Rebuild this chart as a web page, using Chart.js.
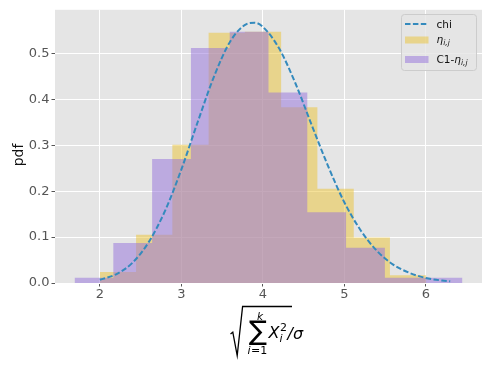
<!DOCTYPE html>
<html>
<head>
<meta charset="utf-8">
<script src="https://cdn.jsdelivr.net/npm/chart.js@4.4.0/dist/chart.umd.min.js"></script>
<style>
html,body{margin:0;padding:0;background:#fff;}
</style>
</head>
<body>
<canvas id="chart" width="491" height="368"></canvas>
<script>
// chi pdf (dashed line)
var chiX = [2.0,2.2,2.4,2.6,2.8,3.0,3.2,3.4,3.6,3.8,3.9,4.0,4.2,4.4,4.6,4.8,5.0,5.2,5.4,5.6,5.8,6.0,6.2,6.3];
var chiY = [0.007,0.019,0.044,0.089,0.157,0.247,0.350,0.449,0.526,0.564,0.567,0.558,0.511,0.435,0.344,0.255,0.176,0.115,0.070,0.040,0.022,0.011,0.0054,0.0037];

// eta_{i,j} histogram: bin edges and density per bin
var etaEdges = [2.0,2.445,2.89,3.335,3.78,4.225,4.67,5.116,5.56,6.007];
var etaHeights = [0.024,0.105,0.301,0.545,0.547,0.383,0.205,0.099,0.0167];

// C1-eta_{i,j} histogram
var c1Edges = [1.69,2.166,2.642,3.118,3.594,4.07,4.546,5.022,5.498,5.974,6.45];
var c1Heights = [0.0117,0.087,0.270,0.512,0.547,0.415,0.154,0.077,0.0117,0.0117];

var xTicks = [2,3,4,5,6];
var yTicks = [0.0,0.1,0.2,0.3,0.4,0.5];

var FONT = "'DejaVu Sans', sans-serif";
var YELLOW = 'rgba(236,196,52,0.5)';
var PURPLE = 'rgba(147,112,219,0.5)';

function stepPoints(edges, heights){
	var pts = [{x: edges[0], y: 0}];
	for (var i = 0; i < heights.length; i++) pts.push({x: edges[i], y: heights[i]});
	pts.push({x: edges[edges.length-1], y: heights[heights.length-1]});
	pts.push({x: edges[edges.length-1], y: 0});
	return pts;
}

var bgPlugin = {
	id: 'bg',
	beforeDraw: function(c){
		var ctx = c.ctx, a = c.chartArea;
		ctx.save();
		ctx.fillStyle = '#fff';
		ctx.fillRect(0, 0, c.width, c.height);
		ctx.fillStyle = '#E5E5E5';
		ctx.fillRect(a.left, a.top, a.right-a.left, a.bottom-a.top);
		ctx.restore();
	}
};

function eta(ctx, x, y, size){
	// italic eta with italic "i,j" subscript
	ctx.font = 'italic ' + size + 'px ' + FONT;
	ctx.fillText('\u03b7', x, y);
	x += ctx.measureText('\u03b7').width;
	ctx.font = 'italic ' + (size*0.72) + 'px ' + FONT;
	ctx.fillText('i,j', x, y + size*0.22);
	return x + ctx.measureText('i,j').width;
}

var labelPlugin = {
	id: 'labels',
	afterDraw: function(c){
		var ctx = c.ctx;
		ctx.save();
		// y label
		ctx.fillStyle = '#111';
		ctx.font = '14px ' + FONT;
		ctx.textAlign = 'center';
		ctx.textBaseline = 'middle';
		ctx.translate(19, 155);
		ctx.rotate(-Math.PI/2);
		ctx.fillText('pdf', 0, 0);
		ctx.restore();

		// x label: sqrt( sum_{i=1}^k X_i^2 / sigma )
		ctx.save();
		ctx.strokeStyle = '#000';
		ctx.fillStyle = '#000';
		ctx.lineWidth = 1.3;
		ctx.beginPath();
		ctx.moveTo(230.5, 334);
		ctx.lineTo(232.8, 332.2);
		ctx.lineTo(237.2, 355.5);
		ctx.lineTo(242.6, 306.5);
		ctx.lineTo(292, 306.5);
		ctx.stroke();
		ctx.textAlign = 'center';
		ctx.textBaseline = 'alphabetic';
		ctx.font = 'italic 10.5px ' + FONT;
		ctx.fillText('k', 260, 320);
		ctx.font = '27px ' + FONT;
		ctx.textBaseline = 'middle';
		ctx.fillText('\u2211', 258, 333);
		ctx.textBaseline = 'alphabetic';
		ctx.textAlign = 'left';
		ctx.font = 'italic 11px ' + FONT;
		ctx.fillText('i', 247.5, 353.5);
		var w = ctx.measureText('i').width;
		ctx.font = '11px ' + FONT;
		ctx.fillText('=1', 247.5 + w + 0.5, 353.5);
		ctx.font = 'italic 16px ' + FONT;
		ctx.fillText('X', 268.5, 338.3);
		ctx.font = '11px ' + FONT;
		ctx.fillText('2', 280, 331);
		ctx.font = 'italic 11px ' + FONT;
		ctx.fillText('i', 279.5, 341.5);
		ctx.font = 'italic 16px ' + FONT;
		ctx.fillText('/\u03c3', 287.5, 339.3);
		ctx.restore();

		// legend
		ctx.save();
		ctx.beginPath();
		ctx.roundRect(401.5, 14.5, 75, 56, 3);
		ctx.fillStyle = 'rgba(229,229,229,0.8)';
		ctx.fill();
		ctx.strokeStyle = '#cccccc';
		ctx.lineWidth = 1;
		ctx.stroke();
		ctx.strokeStyle = '#348ABD';
		ctx.lineWidth = 2;
		ctx.setLineDash([5.5, 2.4]);
		ctx.beginPath();
		ctx.moveTo(405, 24);
		ctx.lineTo(428.5, 24);
		ctx.stroke();
		ctx.setLineDash([]);
		ctx.fillStyle = YELLOW;
		ctx.fillRect(405, 36.5, 23.5, 7);
		ctx.fillStyle = PURPLE;
		ctx.fillRect(405, 56, 23.5, 7);
		ctx.fillStyle = '#111';
		ctx.textBaseline = 'alphabetic';
		ctx.textAlign = 'left';
		ctx.font = '10.5px ' + FONT;
		ctx.fillText('chi', 436.5, 28);
		eta(ctx, 436.5, 43, 10.5);
		ctx.font = '10.5px ' + FONT;
		ctx.fillText('C1-', 436.5, 63);
		eta(ctx, 436.5 + ctx.measureText('C1-').width, 63, 10.5);
		ctx.restore();
	}
};

var chart = new Chart(document.getElementById('chart'), {
	type: 'line',
	data: {
		datasets: [
			{
				label: 'chi',
				data: chiX.map(function(x, i){ return {x: x, y: chiY[i]}; }),
				borderColor: '#348ABD',
				borderWidth: 2,
				borderDash: [5.5, 2.4],
				pointRadius: 0,
				cubicInterpolationMode: 'monotone',
				fill: false
			},
			{
				label: 'C1-eta',
				data: stepPoints(c1Edges, c1Heights),
				stepped: 'before',
				borderColor: 'rgba(0,0,0,0)',
				borderWidth: 0,
				backgroundColor: PURPLE,
				pointRadius: 0,
				fill: 'origin'
			},
			{
				label: 'eta',
				data: stepPoints(etaEdges, etaHeights),
				stepped: 'before',
				borderColor: 'rgba(0,0,0,0)',
				borderWidth: 0,
				backgroundColor: YELLOW,
				pointRadius: 0,
				fill: 'origin'
			}
		]
	},
	options: {
		responsive: false,
		animation: false,
		devicePixelRatio: 1,
		layout: {padding: {left: 0, right: 9, top: 9, bottom: 0}},
		plugins: {legend: {display: false}, tooltip: {enabled: false}},
		scales: {
			x: {
				type: 'linear',
				min: 1.45,
				max: 6.69,
				afterBuildTicks: function(s){ s.ticks = xTicks.map(function(v){ return {value: v}; }); },
				afterFit: function(s){ s.height = 85; },
				ticks: {color: '#555555', font: {family: FONT, size: 13}, padding: 0, maxRotation: 0,
					callback: function(v){ return String(v); }},
				grid: {color: '#ffffff', lineWidth: 1, tickColor: '#555555', tickLength: 3.5},
				border: {display: false}
			},
			y: {
				min: 0,
				max: 0.595,
				afterBuildTicks: function(s){ s.ticks = yTicks.map(function(v){ return {value: v}; }); },
				afterFit: function(s){ s.width = 55; },
				ticks: {color: '#555555', font: {family: FONT, size: 13}, padding: 2,
					callback: function(v){ return Number(v).toFixed(1); }},
				grid: {color: '#ffffff', lineWidth: 1, tickColor: '#555555', tickLength: 3.5},
				border: {display: false}
			}
		}
	},
	plugins: [bgPlugin, labelPlugin]
});
</script>
</body>
</html>
